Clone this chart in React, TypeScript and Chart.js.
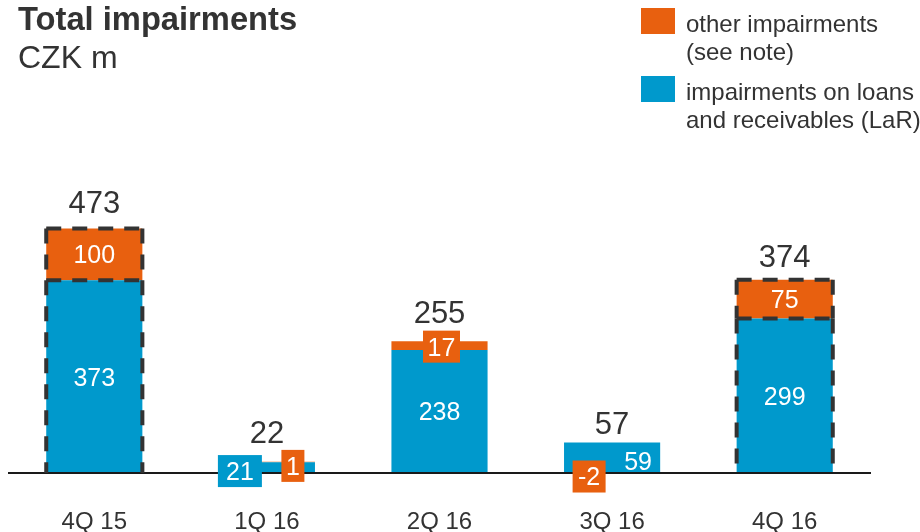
import React, { useEffect, useRef } from 'react';
import { Chart, registerables } from 'chart.js';

Chart.register(...registerables);

// ---- data ----
const categories = ['4Q 15', '1Q 16', '2Q 16', '3Q 16', '4Q 16'];
const larValues = [373, 21, 238, 59, 299];
const otherValues = [100, 1, 17, -2, 75];
const totalValues = [473, 22, 255, 57, 374];
const outlinedBars = [true, false, false, false, true];

const titleText = 'Total impairments';
const subtitleText = 'CZK m';
const legendOther = ['other impairments', '(see note)'];
const legendLar = ['impairments on loans', 'and receivables (LaR)'];

// ---- style ----
const ORANGE = '#E8600F';
const BLUE = '#0099CC';
const TEXT = '#333333';
const FONT = '"Liberation Sans", Arial, Helvetica, sans-serif';

type Place = { kind: 'inside' | 'box' | 'text'; dx?: number; dy?: number; w?: number };
const larPlacement: Place[] = [
  { kind: 'inside' },
  { kind: 'box', dx: -27, dy: 3.5, w: 44 },
  { kind: 'inside' },
  { kind: 'text', dx: 26, dy: 3 },
  { kind: 'inside' },
];
const otherPlacement: Place[] = [
  { kind: 'inside' },
  { kind: 'box', dx: 26, dy: 4, w: 23 },
  { kind: 'box', dx: 2, dy: 1, w: 37 },
  { kind: 'box', dx: -23, dy: 3, w: 33 },
  { kind: 'inside' },
];
const totalLift = [27, 30, 29, 20, 24];
const INNER_SIZE = 25;
const TOTAL_SIZE = 31;
const TICK_SIZE = 24;
const TICK_OFFSET = 47;
const BOX_H = 32;

const overlayPlugin = {
  id: 'overlay',
  afterDraw(chart: any) {
    const { ctx } = chart;
    const yScale = chart.scales.y;
    const xScale = chart.scales.x;
    const zeroY = yScale.getPixelForValue(0);
    const lar = chart.getDatasetMeta(0).data;
    const oth = chart.getDatasetMeta(1).data;
    ctx.save();

    // axis line
    ctx.strokeStyle = '#1a1a1a';
    ctx.lineWidth = 2;
    ctx.beginPath();
    ctx.moveTo(chart.chartArea.left, zeroY);
    ctx.lineTo(chart.chartArea.right, zeroY);
    ctx.stroke();

    // dashed outlines
    ctx.strokeStyle = '#333333';
    ctx.lineWidth = 4;
    ctx.setLineDash([15, 11]);
    const seg = (x1: number, y1: number, x2: number, y2: number) => {
      ctx.beginPath();
      ctx.moveTo(x1, y1);
      ctx.lineTo(x2, y2);
      ctx.stroke();
    };
    outlinedBars.forEach((on, i) => {
      if (!on) return;
      const b = lar[i];
      const o = oth[i];
      const l = b.x - b.width / 2;
      const r = b.x + b.width / 2;
      const top = Math.min(b.y, o.y);
      const mid = b.y;
      seg(l, top, r, top);
      seg(l, top, l, mid);
      seg(r, top, r, mid);
      seg(l, mid, r, mid);
      seg(l, mid, l, zeroY);
      seg(r, mid, r, zeroY);
    });
    ctx.setLineDash([]);

    const drawText = (txt: string, cx: number, cy: number, size: number, color: string) => {
      ctx.font = `${size}px ${FONT}`;
      ctx.fillStyle = color;
      ctx.textAlign = 'center';
      ctx.textBaseline = 'alphabetic';
      ctx.fillText(txt, cx, cy + 0.358 * size);
    };

    const drawSegLabel = (el: any, value: number, place: Place, color: string) => {
      const segCenter = (el.y + el.base) / 2;
      const txt = String(value);
      if (place.kind === 'inside') {
        drawText(txt, el.x, segCenter, INNER_SIZE, '#ffffff');
      } else if (place.kind === 'text') {
        drawText(txt, el.x + (place.dx || 0), segCenter + (place.dy || 0), INNER_SIZE, '#ffffff');
      } else {
        const cx = el.x + (place.dx || 0);
        const cy = segCenter + (place.dy || 0);
        const w = place.w || 30;
        ctx.fillStyle = color;
        ctx.fillRect(cx - w / 2, cy - BOX_H / 2, w, BOX_H);
        drawText(txt, cx, cy, INNER_SIZE, '#ffffff');
      }
    };

    categories.forEach((cat, i) => {
      drawSegLabel(lar[i], larValues[i], larPlacement[i], BLUE);
      drawSegLabel(oth[i], otherValues[i], otherPlacement[i], ORANGE);
      const top = Math.min(lar[i].y, oth[i].y);
      drawText(String(totalValues[i]), lar[i].x, top - totalLift[i], TOTAL_SIZE, TEXT);
      drawText(cat, xScale.getPixelForValue(i), zeroY + TICK_OFFSET, TICK_SIZE, TEXT);
    });

    ctx.restore();
  },
};

export default function App() {
  const canvasRef = useRef<HTMLCanvasElement | null>(null);

  useEffect(() => {
    if (!canvasRef.current) return;
    const chart = new Chart(canvasRef.current, {
      type: 'bar',
      data: {
        labels: categories,
        datasets: [
          {
            label: 'impairments on loans and receivables (LaR)',
            data: larValues,
            backgroundColor: BLUE,
            borderWidth: 0,
            stack: 's',
            clip: false as any,
          },
          {
            label: 'other impairments (see note)',
            data: otherValues,
            backgroundColor: ORANGE,
            borderWidth: 0,
            stack: 's',
            clip: false as any,
          },
        ],
      },
      options: {
        responsive: false,
        animation: false,
        devicePixelRatio: 1,
        layout: { padding: { left: 8, right: 49, top: 132, bottom: 59 } },
        datasets: {
          bar: { categoryPercentage: 1, barPercentage: 0.557 },
        },
        plugins: {
          legend: { display: false },
          tooltip: { enabled: false },
          title: { display: false },
        },
        scales: {
          x: {
            stacked: true,
            offset: true,
            display: true,
            grid: { display: false, drawTicks: false },
            border: { display: false },
            ticks: { display: false },
          },
          y: {
            stacked: true,
            display: false,
            min: 0,
            max: 660,
          },
        },
      },
      plugins: [overlayPlugin],
    });
    return () => chart.destroy();
  }, []);

  const legendRow = (color: string, squareTop: number, textTop: number, lines: string[]) => (
    <>
      <div
        style={{
          position: 'absolute',
          left: 641,
          top: squareTop,
          width: 34,
          height: 26,
          background: color,
        }}
      />
      <div
        style={{
          position: 'absolute',
          left: 686,
          top: textTop,
          fontFamily: FONT,
          fontSize: 24,
          lineHeight: '28px',
          color: TEXT,
          whiteSpace: 'nowrap',
        }}
      >
        {lines.map((t, i) => (
          <div key={i}>{t}</div>
        ))}
      </div>
    </>
  );

  return (
    <div style={{ position: 'fixed', left: 0, top: 0, width: 920, height: 532, background: '#ffffff' }}>
      <canvas ref={canvasRef} width={920} height={532} style={{ position: 'absolute', left: 0, top: 0, width: 920, height: 532 }} />
      <div
        style={{
          position: 'absolute',
          left: 18,
          top: 3,
          fontFamily: FONT,
          fontWeight: 'bold',
          fontSize: 32.7,
          lineHeight: 1,
          color: TEXT,
          whiteSpace: 'nowrap',
        }}
      >
        {titleText}
      </div>
      <div
        style={{
          position: 'absolute',
          left: 18,
          top: 41,
          fontFamily: FONT,
          fontSize: 32,
          lineHeight: 1,
          color: TEXT,
          whiteSpace: 'nowrap',
        }}
      >
        {subtitleText}
      </div>
      {legendRow(ORANGE, 8, 10, legendOther)}
      {legendRow(BLUE, 76, 78, legendLar)}
    </div>
  );
}
